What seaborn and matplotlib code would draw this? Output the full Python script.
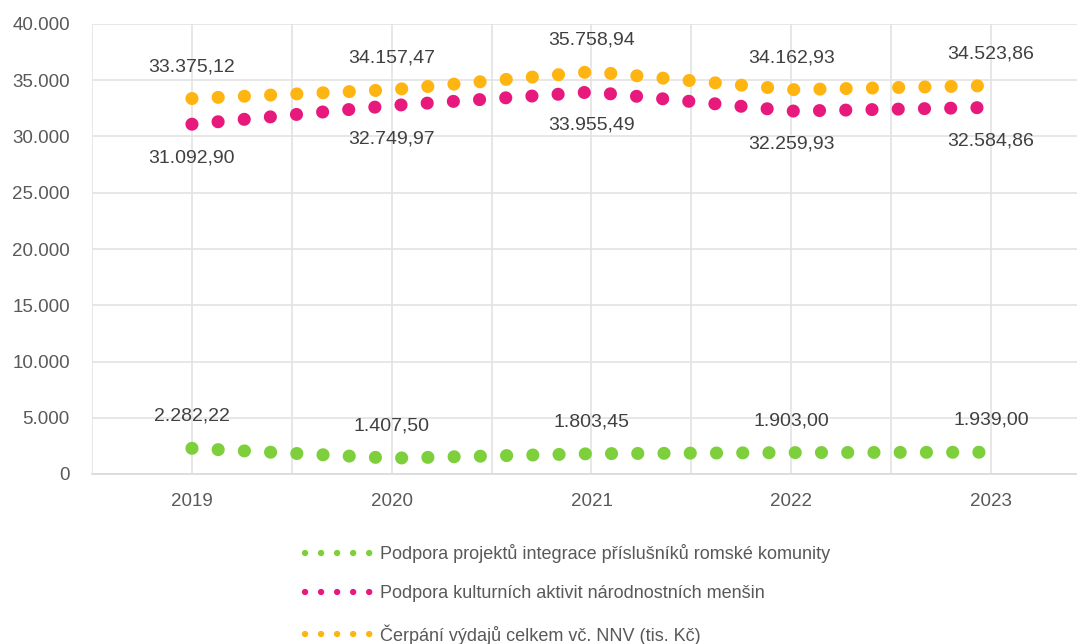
import matplotlib
matplotlib.use("Agg")
import matplotlib.pyplot as plt
import matplotlib.ticker as mticker
from matplotlib.lines import Line2D
import numpy as np
import pandas as pd
import seaborn as sns

years = [2019, 2020, 2021, 2022, 2023]
romove = [2282.22, 1407.50, 1803.45, 1903.00, 1939.00]
kultura = [31092.90, 32749.97, 33955.49, 32259.93, 32584.86]
celkem = [33375.12, 34157.47, 35758.94, 34162.93, 34523.86]

names = [
    "Podpora projektů integrace příslušníků romské komunity",
    "Podpora kulturních aktivit národnostních menšin",
    "Čerpání výdajů celkem vč. NNV (tis. Kč)",
]
colors = ["#7dcf3b", "#e8197d", "#ffb511"]
label_offsets = [23, -24, 23]


def cz(v, dec=2):
    s = f"{v:,.{dec}f}"
    return s.replace(",", "X").replace(".", ",").replace("X", ".")


def main():
    sns.set_style("white")
    plt.rcParams["font.family"] = ["Liberation Sans", "DejaVu Sans"]

    fig = plt.figure(figsize=(10.77, 6.44), dpi=100)
    ax = fig.add_axes([92 / 1077, 170 / 644, 1 - 92 / 1077, 450 / 644])

    series = [romove, kultura, celkem]
    for vals, name, col, off in zip(series, names, colors, label_offsets):
        df = pd.DataFrame({"rok": years, "hodnota": vals})
        sns.lineplot(data=df, x="rok", y="hodnota", ax=ax, color=col,
                     linewidth=9.4, linestyle=(0, (0.01, 2.0)),
                     dash_capstyle="round", legend=False)
        for x, y in zip(years, vals):
            ax.annotate(cz(y), (x, y), xytext=(0, off), textcoords="offset points",
                        ha="center", va="center", fontsize=14, color="#404040")

    ax.set_xticks(years)
    ax.set_xticks(np.arange(2018.5, 2024, 0.5), minor=True)
    ax.set_xlim(2018.5, 2019 + (1077 - 191) / 200)
    ax.set_ylim(0, 40000)
    ax.yaxis.set_major_locator(mticker.MultipleLocator(5000))
    ax.yaxis.set_major_formatter(mticker.FuncFormatter(lambda v, p: cz(v, 0)))
    ax.grid(True, axis="y", which="major", color="#e3e3e3", lw=1.2)
    ax.grid(True, axis="x", which="both", color="#e3e3e3", lw=1.2)
    ax.set_axisbelow(True)
    for s in ["top", "right", "left"]:
        ax.spines[s].set_visible(False)
    ax.spines["bottom"].set_color("#d9d9d9")
    ax.spines["bottom"].set_linewidth(1.2)
    ax.tick_params(axis="both", which="both", length=0, labelsize=13.5,
                   labelcolor="#595959")
    ax.tick_params(axis="y", pad=16)
    ax.tick_params(axis="x", pad=14)
    ax.set_xlabel("")
    ax.set_ylabel("")

    handles = [Line2D([0], [0], color=c, lw=4.6, linestyle=(0, (0.01, 2.5)),
                      dash_capstyle="round") for c in colors]
    fig.legend(handles, names, loc="upper left", bbox_to_anchor=(305 / 1077, 1 - 544 / 644),
               frameon=False, fontsize=13, labelcolor="#595959", handlelength=3.6,
               handletextpad=0.55, labelspacing=1.22, borderpad=0, borderaxespad=0)

    fig.savefig("out.png", dpi=100)


if __name__ == "__main__":
    main()
